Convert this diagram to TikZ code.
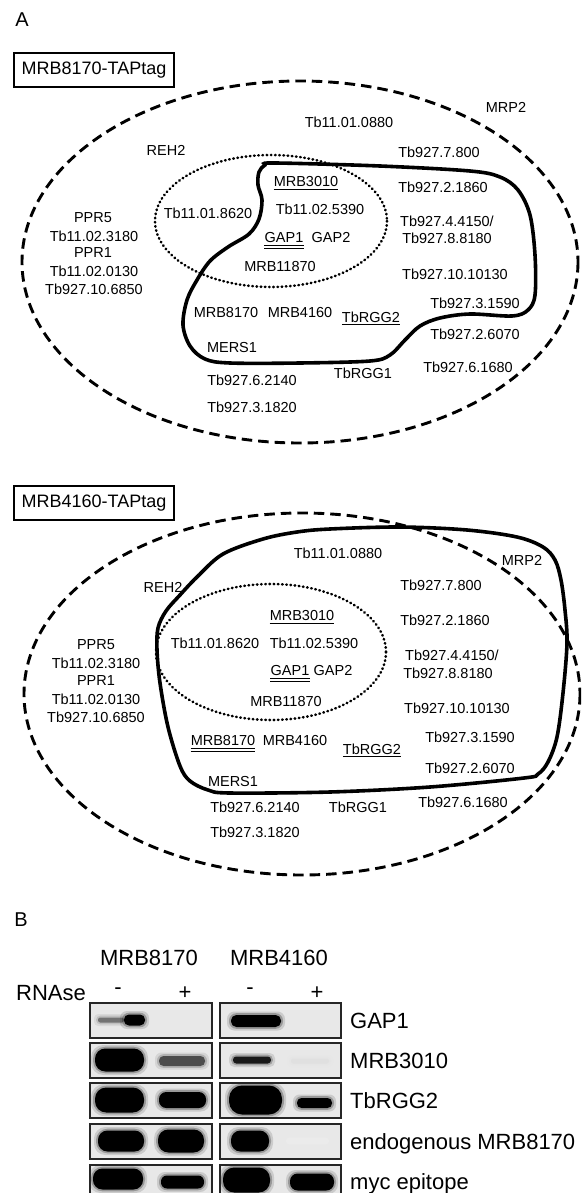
\documentclass[tikz,border=0pt]{standalone}
\usepackage{fontspec}
\setmainfont{Liberation Sans}
\newcommand{\blotband}[5]{%
  \pgfmathsetmacro{\bandr}{0.45*#4+2}%
  \pgfmathsetmacro{\bandrr}{0.45*#4}%
  \fill[#5, opacity=0.12, rounded corners=\bandr pt] (#1-4,#3-#4/2-3.5) rectangle (#2+4,#3+#4/2+3.5);
  \fill[#5, opacity=0.25, rounded corners=\bandr pt] (#1-2,#3-#4/2-1.8) rectangle (#2+2,#3+#4/2+1.8);
  \fill[#5, rounded corners=\bandrr pt] (#1,#3-#4/2) rectangle (#2,#3+#4/2);
}
\begin{document}
\begin{tikzpicture}[x=1pt,y=-1pt,
  lbl/.style={font=\fontsize{14.5}{17}\selectfont, inner sep=0pt},
  dashellipse/.style={line width=2.9pt, dash pattern=on 10.5pt off 6pt},
  dotellipse/.style={line width=2.6pt, dash pattern=on 0.6pt off 3.6pt, line cap=round},
  solidcurve/.style={line width=3.6pt},
  tagbox/.style={draw, line width=2.8pt, font=\fontsize{18}{21}\selectfont, minimum width=160pt, minimum height=34pt, inner sep=0pt},
  ulline/.style={line width=1.2pt},
  blab/.style={font=\fontsize{22}{26}\selectfont, inner sep=0pt},
  plab/.style={font=\fontsize{20}{24}\selectfont, inner sep=0pt}]
\clip (0,0) rectangle (581,1193);
\useasboundingbox (0,0) rectangle (581,1193);
\fill[white] (0,0) rectangle (581,1193);

% ---------------- Panel A ----------------
\node[plab] (labA) at (22,20) {A};

% ===== top diagram =====
\node[tagbox] (tag1) at (94,70) {MRB8170-TAPtag};
\draw[dashellipse] (300,262) ellipse [x radius=278, y radius=181];
\draw[dotellipse] (271,221) ellipse [x radius=116, y radius=66];
\draw[solidcurve] plot[smooth cycle, tension=0.55] coordinates {
 (275,163) (380,166) (470,171) (500,177) (518,190) (530,215) (535,255) (535,295)
 (528,310) (512,316) (470,314) (440,318) (420,326) (405,340) (390,355) (370,361)
 (300,363) (230,363) (205,359) (190,346) (183,325) (187,300) (197,280) (210,261)
 (228,247) (249,234) (259,219) (262,200) (258,185) (259,172) (265,165)};

\node[lbl] (a1mrp2) at (506,107) {MRP2};
\node[lbl] (a1n0880) at (349,122) {Tb11.01.0880};
\node[lbl] (a1reh2) at (166,150) {REH2};
\node[lbl] (a1n7800) at (439,152) {Tb927.7.800};
\node[lbl] (a1mrb3010) at (306,182) {MRB3010};
\node[lbl] (a1n21860) at (443,187) {Tb927.2.1860};
\node[lbl] (a1n5390) at (320,209) {Tb11.02.5390};
\node[lbl] (a1n8620) at (208,213) {Tb11.01.8620};
\node[lbl] (a1ppr5) at (93,218) {PPR5};
\node[lbl] (a1n44150) at (447,221) {Tb927.4.4150/};
\node[lbl] (a1n3180) at (94,236) {Tb11.02.3180};
\node[lbl] (a1gap1) at (284,238) {GAP1};
\node[lbl] (a1gap2) at (331,238) {GAP2};
\node[lbl] (a1n88180) at (447,238) {Tb927.8.8180};
\node[lbl] (a1ppr1) at (93,253) {PPR1};
\node[lbl] (a1mrb11870) at (280,267) {MRB11870};
\node[lbl] (a1n0130) at (94,271) {Tb11.02.0130};
\node[lbl] (a1n10130) at (455,274) {Tb927.10.10130};
\node[lbl] (a1n6850) at (94,289) {Tb927.10.6850};
\node[lbl] (a1n31590) at (475,303) {Tb927.3.1590};
\node[lbl] (a1mrb8170) at (226,313) {MRB8170};
\node[lbl] (a1mrb4160) at (300,313) {MRB4160};
\node[lbl] (a1rgg2) at (371,317) {TbRGG2};
\node[lbl] (a1n26070) at (475,334) {Tb927.2.6070};
\node[lbl] (a1mers1) at (232,348) {MERS1};
\node[lbl] (a1n61680) at (468,367) {Tb927.6.1680};
\node[lbl] (a1rgg1) at (363,373) {TbRGG1};
\node[lbl] (a1n62140) at (252,380) {Tb927.6.2140};
\node[lbl] (a1n31820) at (252,407) {Tb927.3.1820};

\draw[ulline] ([yshift=-2.2pt]a1mrb3010.base west) -- ([yshift=-2.2pt]a1mrb3010.base east);
\draw[ulline] ([yshift=-2.2pt]a1rgg2.base west) -- ([yshift=-2.2pt]a1rgg2.base east);
\draw[ulline] ([yshift=-2.2pt]a1gap1.base west) -- ([yshift=-2.2pt]a1gap1.base east);
\draw[ulline] ([yshift=-5.4pt]a1gap1.base west) -- ([yshift=-5.4pt]a1gap1.base east);

% ===== second diagram =====
\node[tagbox] (tag2) at (94,503) {MRB4160-TAPtag};
\draw[dashellipse] (302,694) ellipse [x radius=278, y radius=181];
\draw[dotellipse] (271,652) ellipse [x radius=115, y radius=68];
\draw[solidcurve] plot[smooth cycle, tension=0.55] coordinates {
 (157,650) (158,628) (166,611) (180,595) (197,577) (223,554) (263,539) (297,532)
 (330,529) (400,527) (467,530) (517,537) (543,547) (555,560) (561,580) (565,610)
 (567,643) (563,693) (557,737) (548,762) (538,774) (524,778) (430,787) (330,792)
 (230,793) (208,790) (190,781) (180,766) (168,727) (160,683)};

\node[lbl] (a2n0880) at (338,553) {Tb11.01.0880};
\node[lbl] (a2mrp2) at (522,560) {MRP2};
\node[lbl] (a2n7800) at (441,585) {Tb927.7.800};
\node[lbl] (a2reh2) at (163,587) {REH2};
\node[lbl] (a2mrb3010) at (302,616) {MRB3010};
\node[lbl] (a2n21860) at (445,620) {Tb927.2.1860};
\node[lbl] (a2n8620) at (215,643) {Tb11.01.8620};
\node[lbl] (a2n5390) at (314,643) {Tb11.02.5390};
\node[lbl] (a2ppr5) at (96,645) {PPR5};
\node[lbl] (a2n44150) at (452,655) {Tb927.4.4150/};
\node[lbl] (a2n3180) at (96,663) {Tb11.02.3180};
\node[lbl] (a2gap1) at (290,671) {GAP1};
\node[lbl] (a2gap2) at (333,671) {GAP2};
\node[lbl] (a2n88180) at (448,673) {Tb927.8.8180};
\node[lbl] (a2ppr1) at (96,681) {PPR1};
\node[lbl] (a2n0130) at (96,699) {Tb11.02.0130};
\node[lbl] (a2mrb11870) at (286,702) {MRB11870};
\node[lbl] (a2n10130) at (457,708) {Tb927.10.10130};
\node[lbl] (a2n6850) at (96,717) {Tb927.10.6850};
\node[lbl] (a2n31590) at (470,737) {Tb927.3.1590};
\node[lbl] (a2mrb8170) at (223,741) {MRB8170};
\node[lbl] (a2mrb4160) at (295,741) {MRB4160};
\node[lbl] (a2rgg2) at (372,749) {TbRGG2};
\node[lbl] (a2n26070) at (470,768) {Tb927.2.6070};
\node[lbl] (a2mers1) at (233,781) {MERS1};
\node[lbl] (a2n61680) at (463,802) {Tb927.6.1680};
\node[lbl] (a2n62140) at (255,807) {Tb927.6.2140};
\node[lbl] (a2rgg1) at (358,807) {TbRGG1};
\node[lbl] (a2n31820) at (255,832) {Tb927.3.1820};

\draw[ulline] ([yshift=-2.2pt]a2mrb3010.base west) -- ([yshift=-2.2pt]a2mrb3010.base east);
\draw[ulline] ([yshift=-2.2pt]a2rgg2.base west) -- ([yshift=-2.2pt]a2rgg2.base east);
\draw[ulline] ([yshift=-2.2pt]a2gap1.base west) -- ([yshift=-2.2pt]a2gap1.base east);
\draw[ulline] ([yshift=-5.4pt]a2gap1.base west) -- ([yshift=-5.4pt]a2gap1.base east);
\draw[ulline] ([yshift=-2.2pt]a2mrb8170.base west) -- ([yshift=-2.2pt]a2mrb8170.base east);
\draw[ulline] ([yshift=-5.4pt]a2mrb8170.base west) -- ([yshift=-5.4pt]a2mrb8170.base east);

% ---------------- Panel B ----------------
\node[plab] (labB) at (21,920) {B};
\node[blab] (h8170) at (149,958) {MRB8170};
\node[blab] (h4160) at (279,958) {MRB4160};
\node[blab] (rnase) at (51,993) {RNAse};
\node[blab] (m1) at (118,991) {-};
\node[blab] (p1) at (185,993) {+};
\node[blab] (m2) at (250,991) {-};
\node[blab] (p2) at (317,993) {+};

% blot boxes
\foreach \ya/\yb in {1003/1038,1043/1078,1083/1118,1124/1159,1165/1200}{
  \fill[black!9] (90,\ya) rectangle (212,\yb);
  \fill[black!9] (220,\ya) rectangle (341,\yb);
}
\begin{scope}
\clip (90,1003) rectangle (212,1200) (220,1003) rectangle (341,1200);
% bands row 1
\blotband{98}{124}{1020}{5}{black!55}
\blotband{124}{145}{1020}{11}{black}
\blotband{231}{281}{1021}{12}{black}
% row 2
\blotband{95}{144}{1060}{23}{black}
\blotband{159}{205}{1061}{10}{black!70}
\blotband{233}{271}{1060}{7}{black!90}
\blotband{291}{329}{1061}{5}{black!12}
% row 3
\blotband{95}{144}{1100}{25}{black}
\blotband{159}{206}{1100}{16}{black}
\blotband{229}{282}{1100}{29}{black}
\blotband{297}{332}{1103}{10}{black}
% row 4
\blotband{98}{144}{1141}{21}{black}
\blotband{158}{204}{1141}{23}{black}
\blotband{231}{269}{1141}{21}{black}
\blotband{286}{329}{1141}{7}{black!8}
% row 5
\blotband{93}{143}{1179}{21}{black}
\blotband{161}{204}{1182}{13}{black}
\blotband{223}{270}{1180}{25}{black}
\blotband{290}{334}{1182}{17}{black}
\end{scope}

\foreach \ya/\yb in {1003/1038,1043/1078,1083/1118,1124/1159,1165/1200}{
  \draw[line width=1.6pt, black!85] (90,\ya) rectangle (212,\yb);
  \draw[line width=1.6pt, black!85] (220,\ya) rectangle (341,\yb);
}

\node[blab, anchor=base west] (lgap1) at (350,1028) {GAP1};
\node[blab, anchor=base west] (lmrb3010) at (350,1068) {MRB3010};
\node[blab, anchor=base west] (lrgg2) at (350,1108) {TbRGG2};
\node[blab, anchor=base west] (lendo) at (350,1149) {endogenous MRB8170};
\node[blab, anchor=base west] (lmyc) at (350,1189) {myc epitope};
\end{tikzpicture}
\end{document}
